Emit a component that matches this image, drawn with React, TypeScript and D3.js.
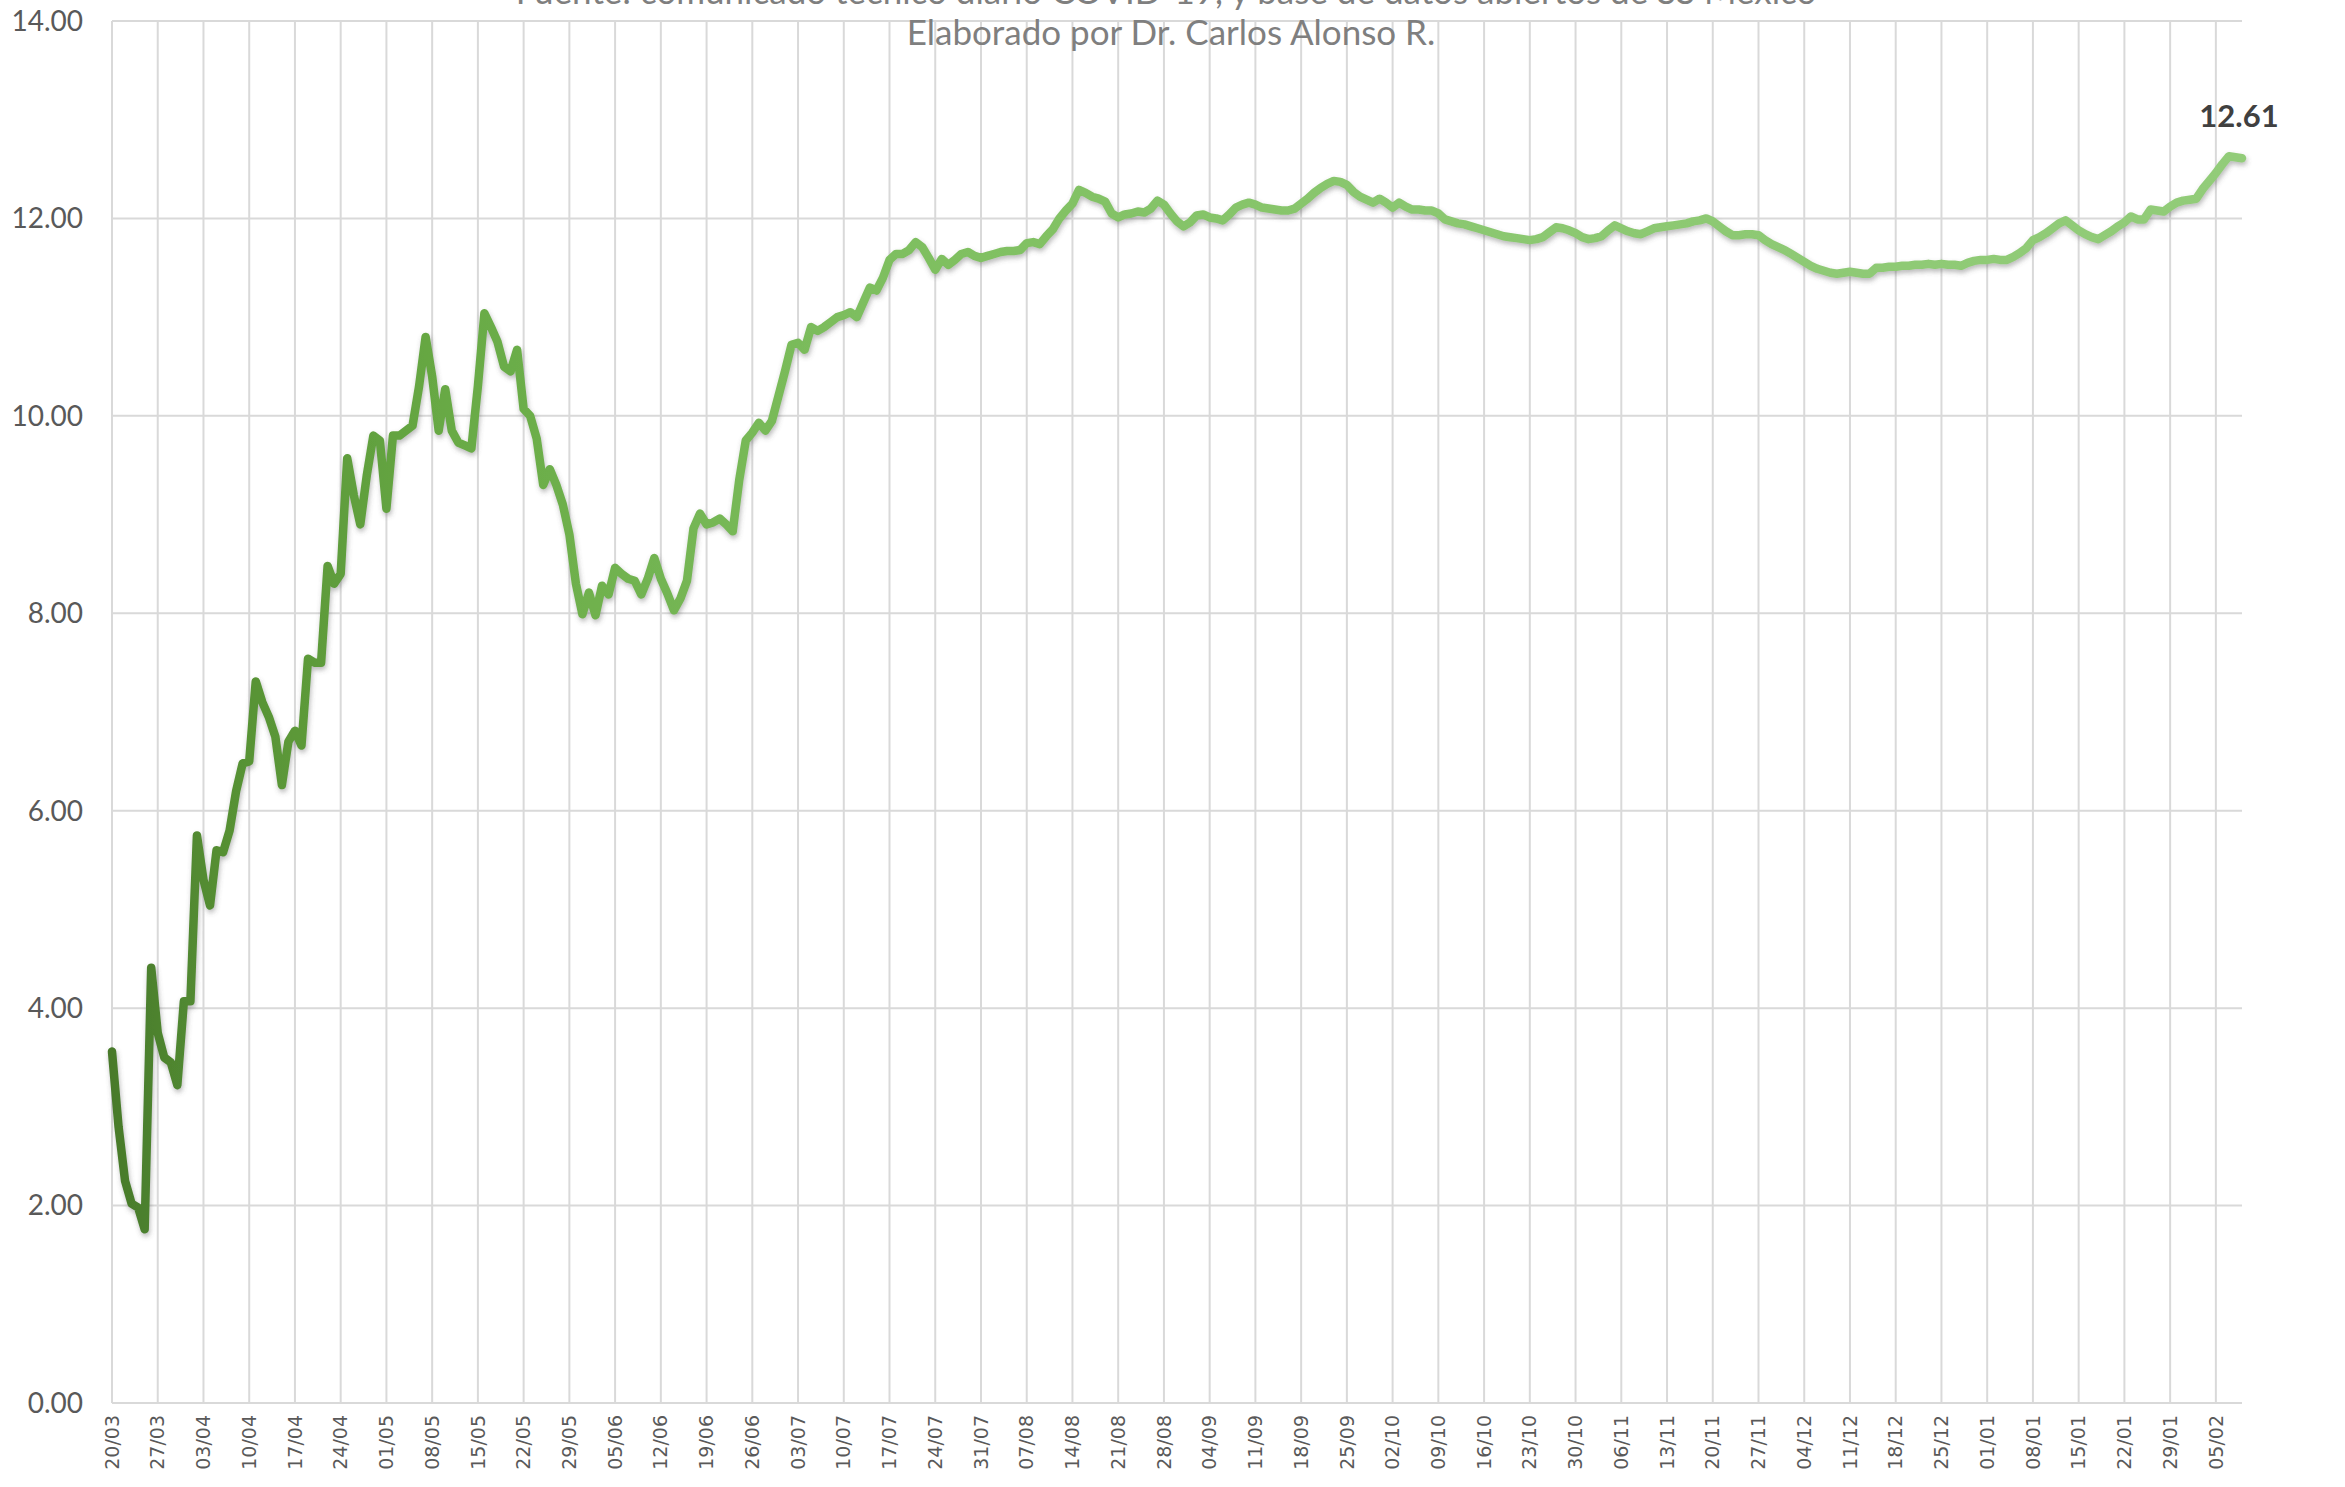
import React from "react";
import * as d3 from "d3";

// ---- Data ----
const START_DATE = new Date(2020, 2, 20); // 20/03/2020, one point per day

const values: number[] = [
  3.56, 2.8, 2.25, 2.02, 1.98, 1.76, 4.41, 3.75, 3.5, 3.45, 3.22, 4.07, 4.07, 5.75,
  5.3, 5.04, 5.6, 5.58, 5.8, 6.2, 6.48, 6.5, 7.31, 7.1, 6.95, 6.75, 6.26, 6.7,
  6.81, 6.66, 7.54, 7.5, 7.5, 8.48, 8.3, 8.4, 9.57, 9.2, 8.9, 9.4, 9.8, 9.75,
  9.06, 9.8, 9.8, 9.85, 9.9, 10.3, 10.8, 10.4, 9.85, 10.27, 9.85, 9.73, 9.7, 9.67,
  10.3, 11.04, 10.9, 10.75, 10.5, 10.45, 10.67, 10.07, 10.0, 9.77, 9.3, 9.46, 9.3, 9.1,
  8.8, 8.3, 7.99, 8.21, 7.98, 8.28, 8.19, 8.46, 8.4, 8.35, 8.33, 8.19, 8.35, 8.56,
  8.35, 8.2, 8.03, 8.15, 8.33, 8.86, 9.01, 8.9, 8.92, 8.96, 8.9, 8.83, 9.35, 9.75,
  9.83, 9.93, 9.85, 9.95, 10.2, 10.45, 10.72, 10.74, 10.67, 10.9, 10.86, 10.9, 10.95, 11.0,
  11.02, 11.05, 11.0, 11.15, 11.3, 11.27, 11.4, 11.58, 11.64, 11.64, 11.68, 11.76, 11.71, 11.6,
  11.48, 11.59, 11.53, 11.58, 11.64, 11.66, 11.62, 11.6, 11.62, 11.64, 11.66, 11.67, 11.67, 11.68,
  11.75, 11.76, 11.74, 11.82, 11.89, 12.0, 12.08, 12.15, 12.29, 12.26, 12.22, 12.2, 12.17, 12.05,
  12.01, 12.04, 12.05, 12.07, 12.06, 12.1, 12.18, 12.14, 12.05, 11.97, 11.92, 11.96, 12.03, 12.04,
  12.01, 12.0, 11.98, 12.04, 12.11, 12.14, 12.16, 12.14, 12.11, 12.1, 12.09, 12.08, 12.08, 12.1,
  12.15, 12.2, 12.26, 12.31, 12.35, 12.38, 12.37, 12.34, 12.27, 12.22, 12.19, 12.16, 12.2, 12.16,
  12.11, 12.16, 12.12, 12.09, 12.09, 12.08, 12.08, 12.05, 11.99, 11.97, 11.95, 11.94, 11.92, 11.9,
  11.88, 11.86, 11.84, 11.82, 11.81, 11.8, 11.79, 11.78, 11.79, 11.81, 11.86, 11.91, 11.9, 11.88,
  11.85, 11.81, 11.79, 11.8, 11.82, 11.88, 11.93, 11.9, 11.87, 11.85, 11.84, 11.87, 11.9, 11.91,
  11.92, 11.93, 11.94, 11.95, 11.97, 11.98, 12.0, 11.97, 11.92, 11.87, 11.83, 11.83, 11.84, 11.84,
  11.83, 11.78, 11.74, 11.71, 11.68, 11.64, 11.6, 11.56, 11.52, 11.49, 11.47, 11.45, 11.44, 11.45,
  11.46, 11.45, 11.44, 11.44, 11.5, 11.5, 11.51, 11.51, 11.52, 11.52, 11.53, 11.53, 11.54, 11.53,
  11.54, 11.53, 11.53, 11.52, 11.55, 11.57, 11.58, 11.58, 11.59, 11.58, 11.58, 11.61, 11.65, 11.7,
  11.78, 11.81, 11.85, 11.9, 11.95, 11.98, 11.93, 11.88, 11.84, 11.81, 11.79, 11.83, 11.87, 11.92,
  11.96, 12.02, 11.99, 11.99, 12.09, 12.08, 12.07, 12.12, 12.16, 12.18, 12.19, 12.2, 12.3, 12.38,
  12.46, 12.55, 12.63, 12.62, 12.61,
];

const dates: Date[] = values.map((_, i) => d3.timeDay.offset(START_DATE, i));

const yTicks: number[] = [0, 2, 4, 6, 8, 10, 12, 14];
const TICK_EVERY_DAYS = 7;

const titleTop = "Fuente: comunicado técnico diario COVID-19, y base de datos abiertos de SS México";
const titleSub = "Elaborado por Dr. Carlos Alonso R.";
const lastLabel = "12.61";

// ---- Layout ----
const W = 2345;
const H = 1487;
const left = 112;
const right = 2242;
const top = 21;
const bottom = 1403;

export default function App() {
  const x = d3.scaleLinear().domain([0, values.length - 1]).range([left, right]);
  const y = d3.scaleLinear().domain([0, 14]).range([bottom, top]);
  const fmtDate = d3.timeFormat("%d/%m");
  const tickIdx = d3.range(0, values.length, TICK_EVERY_DAYS);

  const line = d3
    .line<number>()
    .x((_, i) => x(i))
    .y((d) => y(d));

  const lastI = values.length - 1;

  return (
    <div style={{ position: "absolute", left: 0, top: 0, width: W, height: H, background: "#fff" }}>
      <svg width={W} height={H} style={{ display: "block" }}>
        <defs>
          <linearGradient id="lg" gradientUnits="userSpaceOnUse" x1={left} x2={right} y1={0} y2={0}>
            <stop offset="0" stopColor="#487a2b" />
            <stop offset="0.06" stopColor="#579234" />
            <stop offset="0.16" stopColor="#68aa45" />
            <stop offset="0.35" stopColor="#7dbe5e" />
            <stop offset="0.6" stopColor="#8ac76f" />
            <stop offset="1" stopColor="#92cc79" />
          </linearGradient>
          <filter id="sh" x="-5%" y="-5%" width="110%" height="110%">
            <feDropShadow dx="1" dy="3" stdDeviation="2.5" floodColor="#555" floodOpacity="0.4" />
          </filter>
        </defs>

        {/* horizontal gridlines */}
        {yTicks.map((t) => (
          <line key={"h" + t} x1={left} x2={right} y1={y(t)} y2={y(t)} stroke="#d9d9d9" strokeWidth={2} />
        ))}
        {/* vertical gridlines */}
        {tickIdx.map((i) => (
          <line key={"v" + i} x1={x(i)} x2={x(i)} y1={y(0)} y2={y(14)} stroke="#d9d9d9" strokeWidth={2} />
        ))}

        {/* y tick labels */}
        {yTicks.map((t) => (
          <text
            key={"yl" + t}
            x={83}
            y={y(t)}
            dy="0.35em"
            textAnchor="end"
            fontFamily="Lato, 'Open Sans', sans-serif"
            fontSize={28}
            fill="#595959"
          >
            {t.toFixed(2)}
          </text>
        ))}

        {/* x tick labels */}
        {tickIdx.map((i) => (
          <text
            key={"xl" + i}
            transform={`translate(${x(i)},${bottom + 12}) rotate(-90)`}
            textAnchor="end"
            dy="0.35em"
            fontFamily="'DejaVu Sans', sans-serif"
            fontSize={19}
            fill="#595959"
          >
            {fmtDate(dates[i])}
          </text>
        ))}

        {/* titles */}
        <text x={1166} y={4} textAnchor="middle" fontFamily="Lato, sans-serif" fontSize={35} fill="#7f7f7f">
          {titleTop}
        </text>
        <text x={1171} y={45} textAnchor="middle" fontFamily="Lato, sans-serif" fontSize={35} fill="#7f7f7f">
          {titleSub}
        </text>

        {/* series */}
        <path
          d={line(values) ?? ""}
          fill="none"
          stroke="url(#lg)"
          strokeWidth={8.5}
          strokeLinejoin="round"
          strokeLinecap="round"
          filter="url(#sh)"
        />

        {/* last value label */}
        <text
          x={x(lastI) - 3}
          y={127}
          textAnchor="middle"
          fontFamily="Lato, sans-serif"
          fontWeight="bold"
          fontSize={31}
          fill="#404040"
        >
          {lastLabel}
        </text>
      </svg>
    </div>
  );
}
